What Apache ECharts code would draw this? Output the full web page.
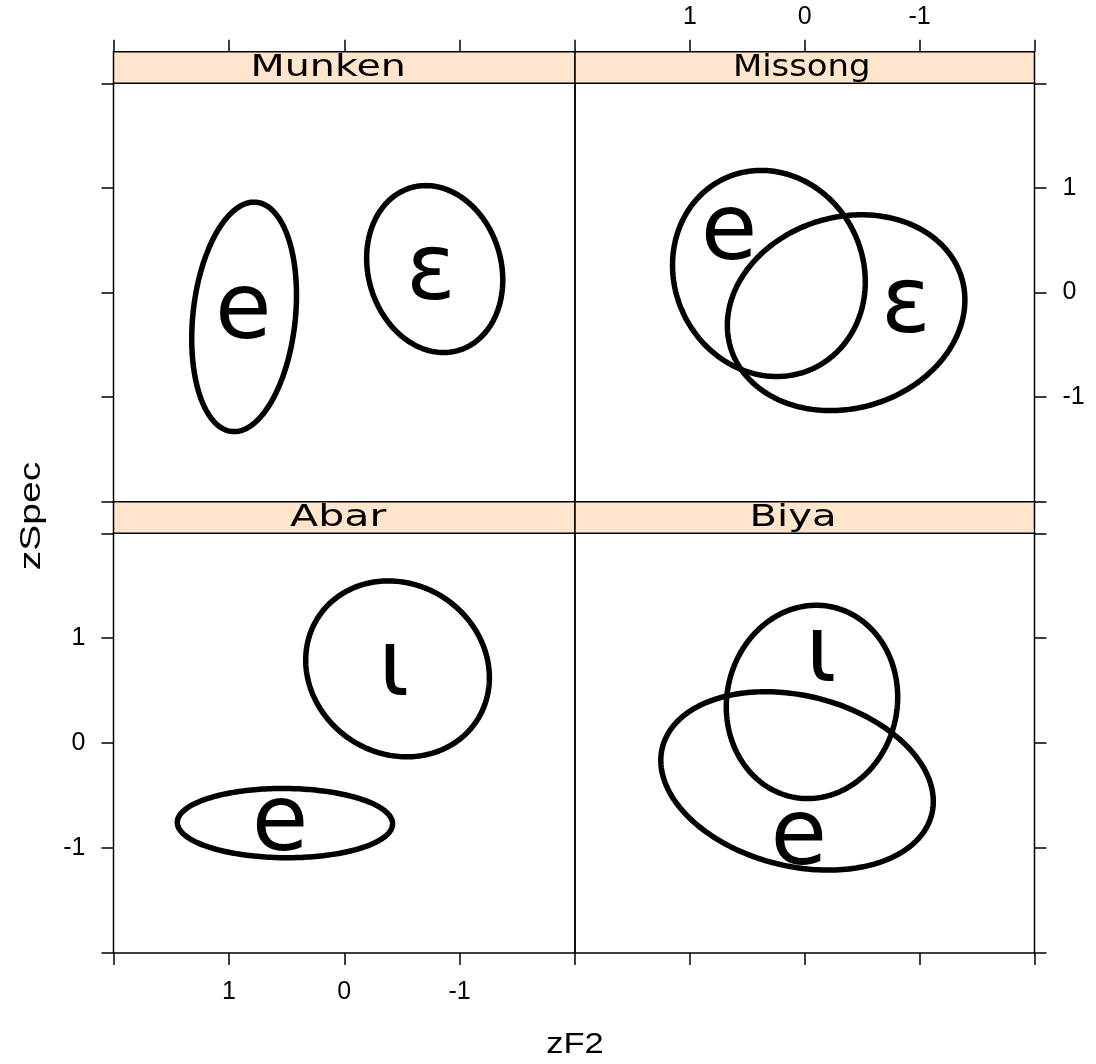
<!DOCTYPE html>
<html>
<head>
<meta charset="utf-8">
<script src="https://cdn.jsdelivr.net/npm/echarts@6/dist/echarts.min.js"></script>
<style>
  html, body { margin: 0; padding: 0; background: #fff; }
  #chart { width: 1096px; height: 1064px; }
</style>
</head>
<body>
<div id="chart"></div>
<script>
// ---------- data ----------
const panelNames = ['Munken', 'Missong', 'Abar', 'Biya'];
const shownTickLabels = ['1', '0', '-1'];

// one entry per ellipse
const ellPanel = [0, 0, 1, 1, 2, 2, 3, 3];
const ellVowel = ['e', 'ɛ', 'e', 'ɛ', 'ι', 'e', 'ι', 'e'];
const ellCx    = [0.868, -0.784, 0.312, -0.360, -0.462, 0.514, -0.063, 0.067];
const ellCy    = [-0.233, 0.224, 0.182, -0.193, 0.708, -0.762, 0.393, -0.360];
const ellSx    = [0.454, 0.590, 0.839, 1.034, 0.796, 0.933, 0.746, 1.186];
const ellSy    = [1.097, 0.798, 0.985, 0.936, 0.838, 0.330, 0.921, 0.850];
const ellR     = [-0.19, 0.13, 0.08, -0.13, 0.10, 0.02, -0.05, 0.23];
const labelX   = [0.876, -0.751, 0.659, -0.881, -0.430, 0.557, -0.143, 0.052];
const labelY   = [-0.210, 0.166, 0.547, -0.151, 0.682, -0.789, 0.817, -0.921];

// ---------- layout ----------
const colLeft = [113.5, 575];
const colWidth = [461.5, 459.5];
const rowTop = [83.3, 533.3];
const rowHeight = [418.4, 419.7];
const stripH = 31.6;
const stripTextShift = [-16, -3, -6, -11.7];
const stripStretch = [1.32, 1.13, 1.37, 1.34];
const tickFont = 'Liberation Sans';
const tickSize = 25;

const chart = echarts.init(document.getElementById('chart'), null, { renderer: 'canvas' });

const grids = [], xAxes = [], yAxes = [], series = [], graphics = [];
const labelFmt = v => (shownTickLabels.indexOf(String(v)) >= 0 ? String(v) : '');
const tickStyle = { color: '#000', width: 1.5 };

for (let p = 0; p < 4; p++) {
  const col = p % 2, row = Math.floor(p / 2);
  grids.push({
    left: colLeft[col], top: rowTop[row], width: colWidth[col], height: rowHeight[row],
    show: true, borderColor: '#000', borderWidth: 1.5, backgroundColor: 'transparent',
    containLabel: false
  });
  const isTop = row === 0;
  const showX = (p === 1 || p === 2);
  xAxes.push({
    gridIndex: p, type: 'value', min: -2, max: 2, interval: 1, inverse: true,
    position: isTop ? 'top' : 'bottom', offset: isTop ? stripH : 0,
    axisLine: { show: false, onZero: false },
    axisTick: { show: true, inside: false, length: 12, lineStyle: tickStyle },
    axisLabel: { show: showX, formatter: labelFmt, margin: isTop ? 22 : 27, fontFamily: tickFont, fontSize: tickSize, color: '#000' },
    splitLine: { show: false }
  });
  const showY = (p === 1 || p === 2);
  yAxes.push({
    gridIndex: p, type: 'value', min: -2, max: 2, interval: 1,
    position: col === 0 ? 'left' : 'right',
    axisLine: { show: false, onZero: false },
    axisTick: { show: true, inside: false, length: 12, lineStyle: tickStyle },
    axisLabel: { show: showY, formatter: labelFmt, margin: 28, fontFamily: tickFont, fontSize: tickSize, color: '#000' },
    splitLine: { show: false }
  });

  const ellData = [], labData = [];
  for (let i = 0; i < ellPanel.length; i++) {
    if (ellPanel[i] !== p) continue;
    ellData.push([ellCx[i], ellCy[i], ellSx[i], ellSy[i], ellR[i]]);
    labData.push([labelX[i], labelY[i], ellVowel[i]]);
  }
  series.push({
    type: 'custom', xAxisIndex: p, yAxisIndex: p, silent: true,
    data: ellData,
    renderItem: function (params, api) {
      const cx = api.value(0), cy = api.value(1), sx = api.value(2), sy = api.value(3), r = api.value(4);
      const q = Math.sqrt(1 - r * r);
      const pts = [];
      for (let k = 0; k < 240; k++) {
        const t = 2 * Math.PI * k / 240;
        pts.push(api.coord([cx + sx * Math.cos(t), cy + sy * (r * Math.cos(t) + q * Math.sin(t))]));
      }
      return { type: 'polygon', shape: { points: pts }, style: { fill: 'none', stroke: '#000', lineWidth: 5.5, lineJoin: 'round' } };
    }
  });
  series.push({
    type: 'custom', xAxisIndex: p, yAxisIndex: p, silent: true,
    data: labData,
    dimensions: ['x', 'y', { name: 'txt', type: 'ordinal' }],
    encode: { x: 0, y: 1 },
    renderItem: function (params, api) {
      const pt = api.coord([api.value(0), api.value(1)]);
      const item = labData[params.dataIndex];
      return {
        type: 'text', x: pt[0], y: pt[1],
        style: { text: item[2], fontFamily: 'DejaVu Sans', fontSize: 92, fill: '#000', align: 'center', verticalAlign: 'middle' }
      };
    }
  });

  // strip
  const sy0 = rowTop[row] - stripH;
  graphics.push({
    type: 'rect', silent: true, z: 10,
    shape: { x: colLeft[col], y: sy0, width: colWidth[col], height: stripH },
    style: { fill: '#ffe5cc', stroke: '#000', lineWidth: 1.5 }
  });
  graphics.push({
    type: 'text', silent: true, z: 11,
    x: colLeft[col] + colWidth[col] / 2 + stripTextShift[p], y: sy0 + stripH / 2 + 1, scaleX: stripStretch[p],
    style: { text: panelNames[p], fontFamily: 'DejaVu Sans', fontSize: 30, fill: '#000', align: 'center', verticalAlign: 'middle' }
  });
}

graphics.push({
  type: 'text', silent: true, x: 575, y: 1045, scaleX: 1.15,
  style: { text: 'zF2', fontFamily: 'Liberation Sans', fontSize: 30, fill: '#000', align: 'center', verticalAlign: 'middle' }
});
graphics.push({
  type: 'text', silent: true, x: 32, y: 516, rotation: Math.PI / 2, scaleX: 1.3,
  style: { text: 'zSpec', fontFamily: 'Liberation Sans', fontSize: 30, fill: '#000', align: 'center', verticalAlign: 'middle' }
});

chart.setOption({
  animation: false,
  backgroundColor: '#fff',
  grid: grids, xAxis: xAxes, yAxis: yAxes, series: series, graphic: graphics
});
</script>
</body>
</html>
